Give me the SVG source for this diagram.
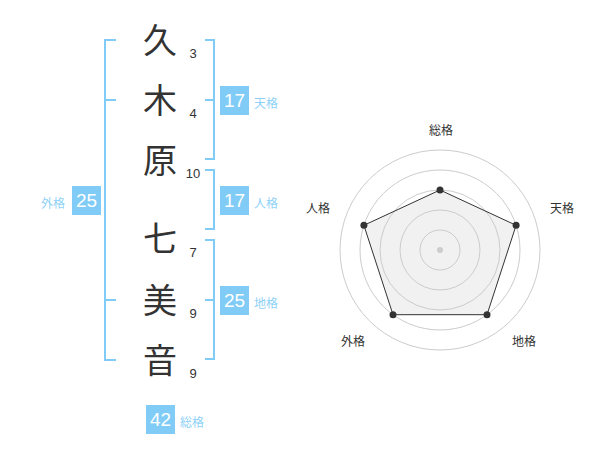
<svg xmlns="http://www.w3.org/2000/svg" width="600" height="470" viewBox="0 0 600 470">
<style>
.k{font-family:"Noto Sans CJK JP","Noto Sans CJK SC",sans-serif;font-size:34px;fill:#333;text-anchor:middle}
.n{font-family:"Liberation Sans",Arial,sans-serif;font-size:13px;fill:#333;text-anchor:middle}
.br{fill:none;stroke:#80ccf7;stroke-width:2}
.box{fill:#80ccf7}
.bn{font-family:"Liberation Sans",Arial,sans-serif;font-size:19px;fill:#fff;text-anchor:middle}
.bl{font-family:"Noto Sans CJK JP","Noto Sans CJK SC",sans-serif;font-size:12px;fill:#8ed1f7}
.ring{fill:none;stroke:#ccc;stroke-width:1}
.rl{font-family:"Noto Sans CJK JP","Noto Sans CJK SC",sans-serif;font-size:12px;fill:#333;text-anchor:middle}
.pt{fill:#333}
</style>
<rect width="600" height="470" fill="#fff"/>
<g id="name">
<text class="k" x="160" y="53">久</text>
<text class="k" x="160" y="113">木</text>
<text class="k" x="160" y="173">原</text>
<text class="k" x="160" y="251">七</text>
<text class="k" x="160" y="313">美</text>
<text class="k" x="160" y="373">音</text>
<text class="n" x="193" y="58">3</text>
<text class="n" x="193" y="118">4</text>
<text class="n" x="193" y="178">10</text>
<text class="n" x="193" y="257">7</text>
<text class="n" x="193" y="318">9</text>
<text class="n" x="193" y="378">9</text>
</g>
<g id="connectors">
<path class="br" d="M116,40H105V360H116M105,100H116M105,300H116"/>
<path class="br" d="M205,40H214V159H205M214,100H205"/>
<path class="br" d="M205,170H214V229H205"/>
<path class="br" d="M205,240H214V359H205M214,300H205"/>
</g>
<g id="tenkaku">
<rect class="box" x="220" y="86" width="29" height="29"/>
<text class="bn" x="234.5" y="107">17</text>
<text class="bl" x="254" y="108">天格</text>
</g>
<g id="jinkaku">
<rect class="box" x="220" y="186" width="29" height="29"/>
<text class="bn" x="234.5" y="207">17</text>
<text class="bl" x="254" y="208">人格</text>
</g>
<g id="chikaku">
<rect class="box" x="220" y="286" width="29" height="29"/>
<text class="bn" x="234.5" y="307">25</text>
<text class="bl" x="254" y="308">地格</text>
</g>
<g id="gaikaku">
<rect class="box" x="72" y="186" width="29" height="29"/>
<text class="bn" x="86.5" y="207">25</text>
<text class="bl" x="41" y="208">外格</text>
</g>
<g id="soukaku">
<rect class="box" x="146" y="405" width="29" height="29"/>
<text class="bn" x="160.5" y="426">42</text>
<text class="bl" x="180" y="427">総格</text>
</g>
<g id="radar">
<polygon points="440,190 516.1,225.3 487,314.7 393,314.7 363.9,225.3" fill="#eee" fill-opacity="0.8" stroke="none"/>
<circle class="ring" cx="440" cy="250" r="20"/>
<circle class="ring" cx="440" cy="250" r="40"/>
<circle class="ring" cx="440" cy="250" r="60"/>
<circle class="ring" cx="440" cy="250" r="80"/>
<circle class="ring" cx="440" cy="250" r="100"/>
<circle cx="440" cy="250" r="3" fill="#ccc"/>
<polygon points="440,190 516.1,225.3 487,314.7 393,314.7 363.9,225.3" fill="none" stroke="#333" stroke-width="1"/>
<circle class="pt" cx="440" cy="190" r="3.5"/>
<circle class="pt" cx="516.1" cy="225.3" r="3.5"/>
<circle class="pt" cx="487" cy="314.7" r="3.5"/>
<circle class="pt" cx="393" cy="314.7" r="3.5"/>
<circle class="pt" cx="363.9" cy="225.3" r="3.5"/>
<text class="rl" x="441" y="135">総格</text>
<text class="rl" x="562" y="213">天格</text>
<text class="rl" x="318" y="213">人格</text>
<text class="rl" x="524" y="346">地格</text>
<text class="rl" x="353" y="346">外格</text>
</g>
</svg>
